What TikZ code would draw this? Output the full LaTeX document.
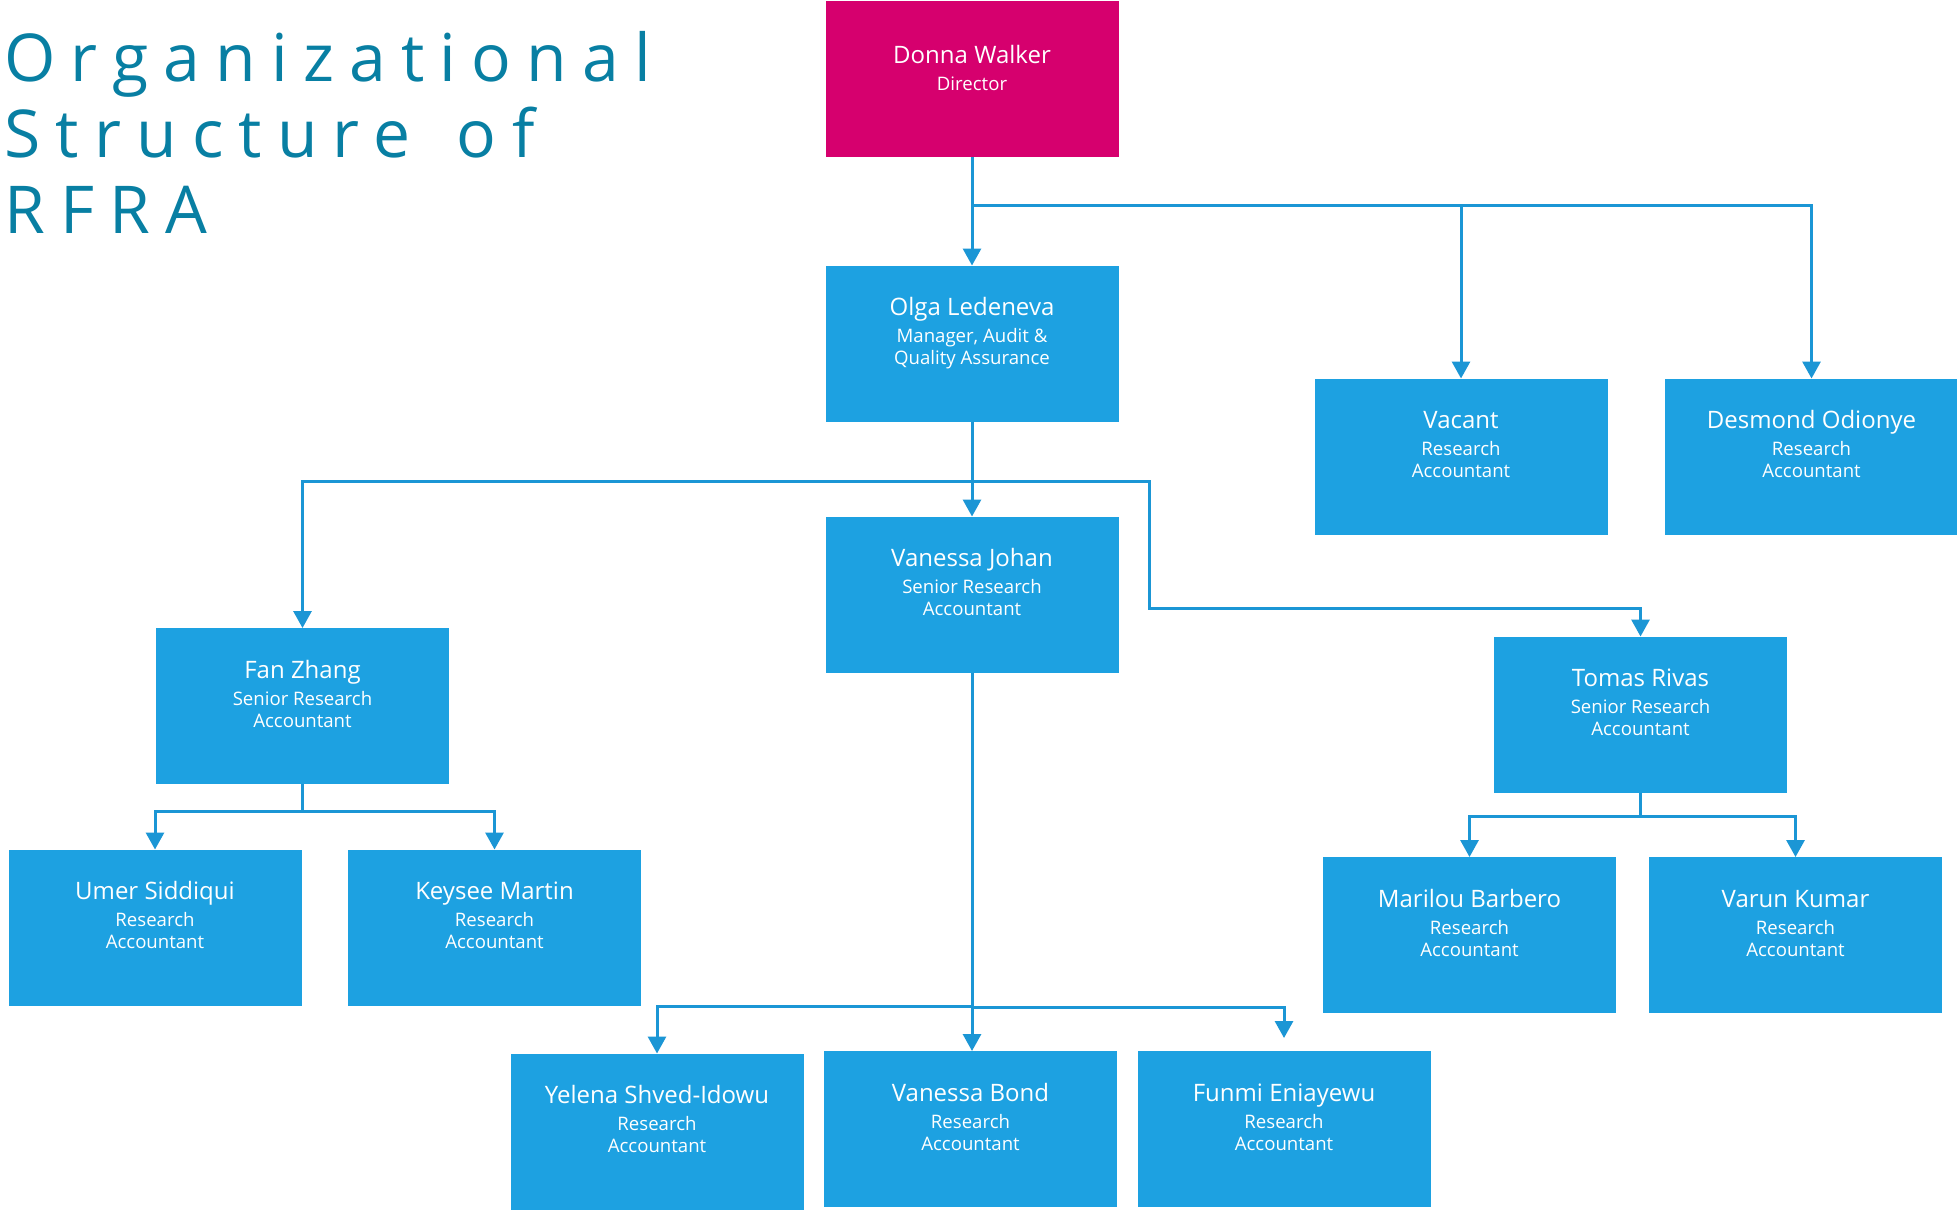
\documentclass[tikz,border=0pt]{standalone}
\usepackage{fontspec}
\setmainfont{Open Sans}
\newfontfamily\titlefont{Open Sans}[LetterSpace=23]
\usetikzlibrary{arrows.meta}
\definecolor{pinkbox}{RGB}{214,0,110}
\definecolor{bluebox}{RGB}{29,161,225}
\definecolor{linkblue}{RGB}{27,150,213}
\definecolor{titleteal}{RGB}{8,127,163}
\tikzset{
  box/.style={rectangle, fill=bluebox, minimum width=146.5pt, minimum height=78pt, inner sep=0pt, outer sep=0pt},
  boss/.style={box, fill=pinkbox},
  lbl/.style={anchor=north, align=center, text=white, inner sep=0pt, font=\fontsize{9.3}{11}\selectfont},
  link/.style={draw=linkblue, line width=1.5pt, -{Triangle[width=9pt,length=8.5pt]}},
}
\newcommand{\nm}[1]{{\fontsize{12}{14}\selectfont\rule{0pt}{10pt}#1}\\[2.5pt]}
\begin{document}
\begin{tikzpicture}[x=0.5pt,y=-0.5pt]
\fill[white] (0,0) rectangle (1957,1212);
\useasboundingbox (0,0) rectangle (1957,1212);

\node[anchor=north west, align=left, text=titleteal, inner sep=0pt,
      font=\titlefont\fontsize{33}{38}\selectfont] (title) at (4,31)
  {\rule{0pt}{25pt}Organizational\\Structure\hspace{7pt} of\\RFRA};

\node[boss] (donna)   at (972,79) {};
\node[box]  (olga)    at (972,343.5) {};
\node[box]  (vjohan)  at (972,594.5) {};
\node[box]  (vacant)  at (1461,456.5) {};
\node[box]  (desmond) at (1811.5,456.5) {};
\node[box]  (fan)     at (302.5,706) {};
\node[box]  (umer)    at (155,927.5) {};
\node[box]  (keysee)  at (494.5,927.5) {};
\node[box]  (tomas)   at (1640.5,714.5) {};
\node[box]  (marilou) at (1469.5,935) {};
\node[box]  (varun)   at (1795.5,935) {};
\node[box]  (yelena)  at (657,1131.5) {};
\node[box]  (vbond)   at (970.5,1129) {};
\node[box]  (funmi)   at (1284,1129) {};

\node[lbl] (donnaT)   at ([yshift=-21pt]donna.north)   {\nm{Donna Walker}Director};
\node[lbl] (olgaT)    at ([yshift=-15pt]olga.north)    {\nm{Olga Ledeneva}Manager, Audit \&\\Quality Assurance};
\node[lbl] (vjohanT)  at ([yshift=-15pt]vjohan.north)  {\nm{Vanessa Johan}Senior Research\\Accountant};
\node[lbl] (vacantT)  at ([yshift=-15pt]vacant.north)  {\nm{Vacant}Research\\Accountant};
\node[lbl] (desmondT) at ([yshift=-15pt]desmond.north) {\nm{Desmond Odionye}Research\\Accountant};
\node[lbl] (fanT)     at ([yshift=-15pt]fan.north)     {\nm{Fan Zhang}Senior Research\\Accountant};
\node[lbl] (umerT)    at ([yshift=-15pt]umer.north)    {\nm{Umer Siddiqui}Research\\Accountant};
\node[lbl] (keyseeT)  at ([yshift=-15pt]keysee.north)  {\nm{Keysee Martin}Research\\Accountant};
\node[lbl] (tomasT)   at ([yshift=-15pt]tomas.north)   {\nm{Tomas Rivas}Senior Research\\Accountant};
\node[lbl] (marilouT) at ([yshift=-15pt]marilou.north) {\nm{Marilou Barbero}Research\\Accountant};
\node[lbl] (varunT)   at ([yshift=-15pt]varun.north)   {\nm{Varun Kumar}Research\\Accountant};
\node[lbl] (yelenaT)  at ([yshift=-15pt]yelena.north)  {\nm{Yelena Shved-Idowu}Research\\Accountant};
\node[lbl] (vbondT)   at ([yshift=-15pt]vbond.north)   {\nm{Vanessa Bond}Research\\Accountant};
\node[lbl] (funmiT)   at ([yshift=-15pt]funmi.north)   {\nm{Funmi Eniayewu}Research\\Accountant};

\draw[link] (donna.south) -- (olga.north);
\draw[link] (donna.south) -- ++(0,48) -| (vacant.north);
\draw[link] (donna.south) -- ++(0,48) -| (desmond.north);
\draw[link] (olga.south) -- (vjohan.north);
\draw[link] (olga.south) -- ++(0,60) -| (fan.north);
\draw[link] (olga.south) -- ++(0,60) -- ++(177,0) -- ++(0,127) -| (tomas.north);
\draw[link] (fan.south) -- ++(0,27) -| (umer.north);
\draw[link] (fan.south) -- ++(0,27) -| (keysee.north);
\draw[link] (tomas.south) -- ++(0,24) -| (marilou.north);
\draw[link] (tomas.south) -- ++(0,24) -| (varun.north);
\draw[link] (vjohan.south) -- ++(0,334) -| (yelena.north);
\draw[link] (vjohan.south) -- (vjohan.south |- vbond.north);
\draw[link, shorten >=6.5pt] (vjohan.south) -- ++(0,335) -| (funmi.north);
\end{tikzpicture}
\end{document}
